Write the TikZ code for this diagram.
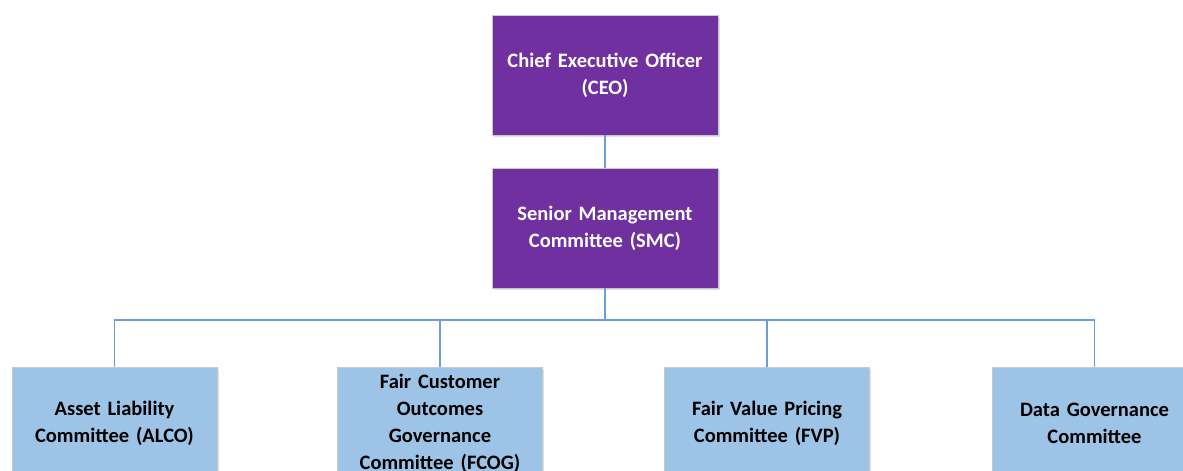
\documentclass[tikz,border=0pt]{standalone}
\usepackage{fontspec}
\setmainfont{Carlito}
\usetikzlibrary{shadows}
\definecolor{execpurple}{HTML}{7030A0}
\definecolor{committeeblue}{HTML}{9DC3E6}
\definecolor{linkblue}{HTML}{6A9FD4}
\definecolor{boxedge}{HTML}{C8C8C8}
\begin{document}
\begin{tikzpicture}[x=1pt,y=-1pt,
  every node/.style={font=\fontsize{20.5}{27}\selectfont\bfseries, align=center, inner sep=0pt},
  exec/.style={fill=execpurple, draw=boxedge, line width=0.8pt, text=white,
    minimum width=226pt, minimum height=120pt, text width=224pt,
    drop shadow={shadow xshift=1.5pt, shadow yshift=-1.5pt, opacity=0.25}},
  cttee/.style={fill=committeeblue, draw=boxedge, line width=0.8pt, text=black,
    minimum width=205pt, minimum height=112pt, text width=203pt,
    drop shadow={shadow xshift=1.5pt, shadow yshift=-1.5pt, opacity=0.25}},
  link/.style={draw=linkblue, line width=1.2pt}]
\useasboundingbox (0,0) rectangle (1183,471);
\fill[white] (0,0) rectangle (1183,471);

% executive chain
\node[exec] (ceo) at (605,75) {Chief Executive Officer\\(CEO)};
\node[exec] (smc) at (605,228) {Senior Management\\Committee (SMC)};

% committees reporting to the SMC
\node[cttee] (alco) at (114.5,423) {Asset Liability\\Committee (ALCO)};
\node[cttee] (fcog) at (440,423) {Fair Customer\\Outcomes\\Governance\\Committee (FCOG)};
\node[cttee] (fvp)  at (767,423) {Fair Value Pricing\\Committee (FVP)};
\node[cttee] (dgc)  at (1094.5,423) {Data Governance\\Committee};

\coordinate (bus) at (605,320);

\draw[link] (ceo.south) -- (smc.north);
\draw[link] (smc.south) -- (bus);
\draw[link] (bus) -| (alco.north);
\draw[link] (bus) -| (fcog.north);
\draw[link] (bus) -| (fvp.north);
\draw[link] (bus) -| (dgc.north);
\end{tikzpicture}
\end{document}
